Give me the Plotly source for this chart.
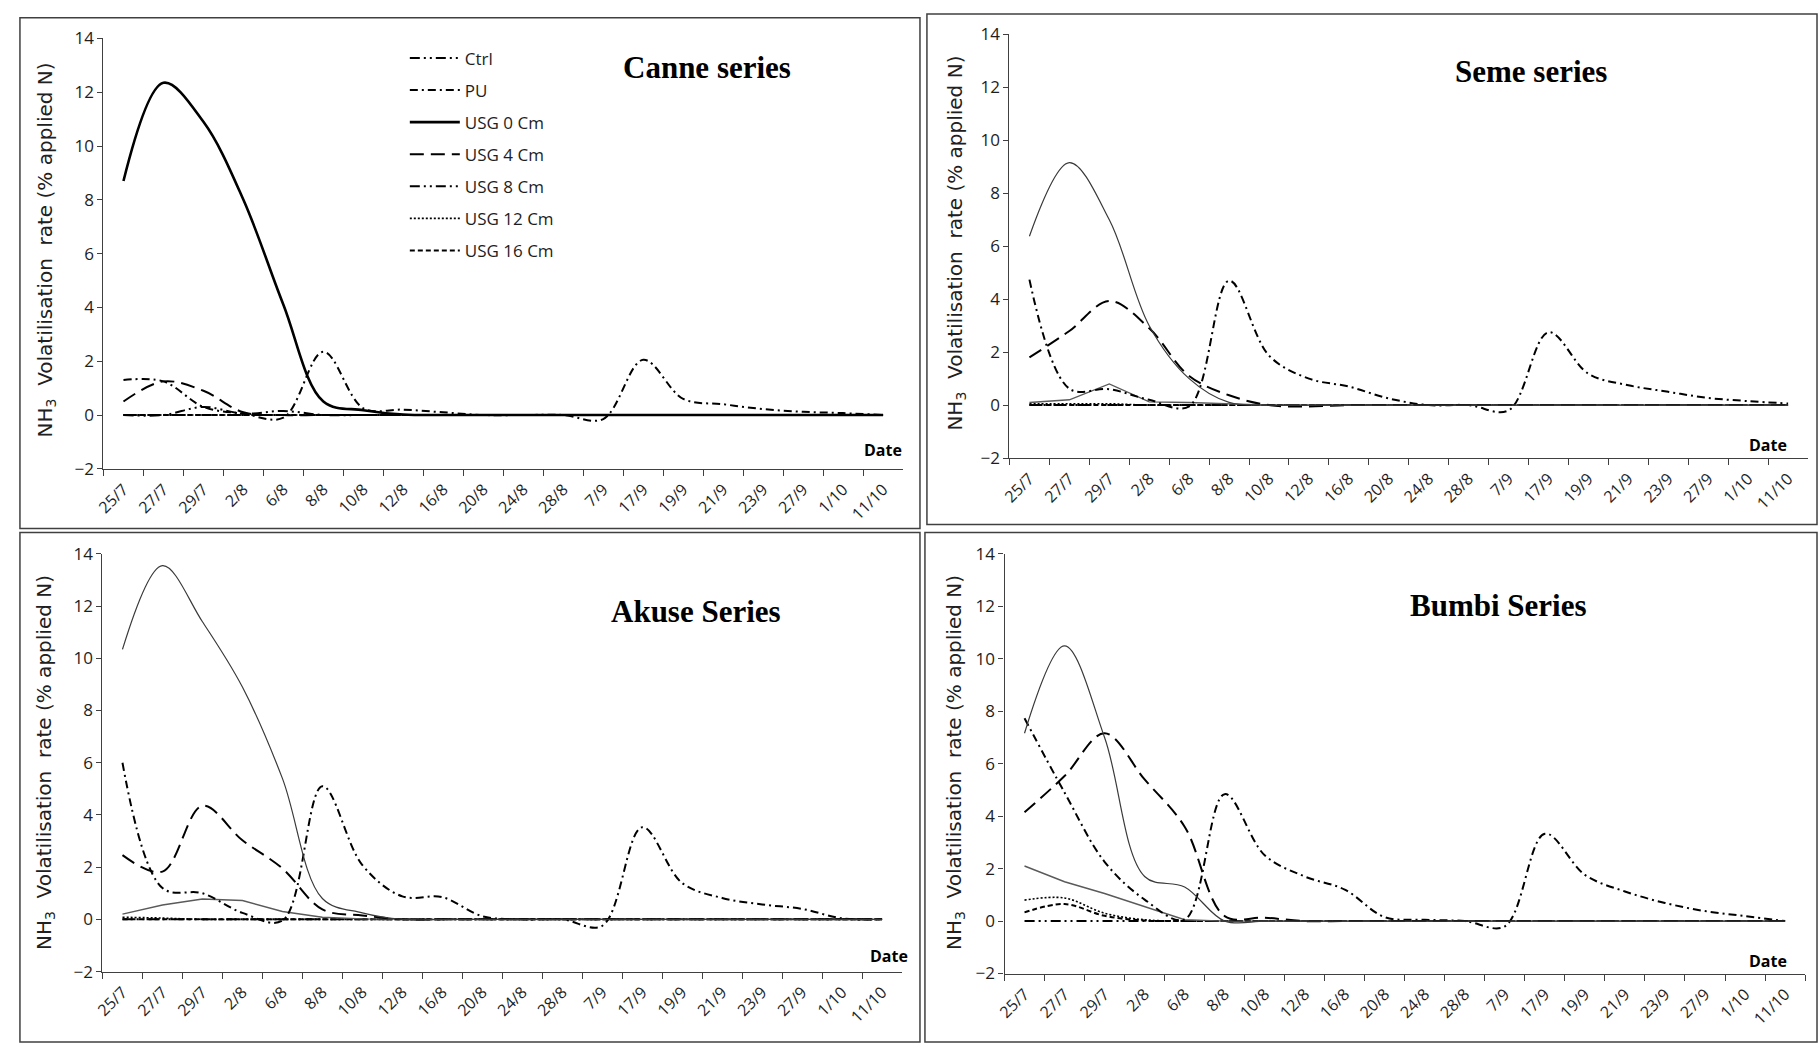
import plotly.graph_objects as go

W, H = 1819, 1053

dates = ["25/7", "27/7", "29/7", "2/8", "6/8", "8/8", "10/8", "12/8", "16/8", "20/8",
         "24/8", "28/8", "7/9", "17/9", "19/9", "21/9", "23/9", "27/9", "1/10", "11/10"]

series_names = ["Ctrl", "PU", "USG 0 Cm", "USG 4 Cm", "USG 8 Cm", "USG 12 Cm", "USG 16 Cm"]

# ---- Canne series ----
canne_ctrl = [0.0] * 20
canne_pu = [1.3, 1.25, 0.3, 0.05, -0.1, 2.35, 0.25, 0.2, 0.1, 0.0, 0.0, 0.0, -0.15, 2.05, 0.6, 0.4, 0.22, 0.12, 0.07, 0.0]
canne_usg0 = [8.7, 12.35, 10.9, 8.0, 4.1, 0.5, 0.18, 0.02, 0.0, 0.0, 0.0, 0.0, 0.0, 0.0, 0.0, 0.0, 0.0, 0.0, 0.0, 0.0]
canne_usg4 = [0.5, 1.25, 0.9, 0.1, 0.0, 0.0, 0.0, 0.0, 0.0, 0.0, 0.0, 0.0, 0.0, 0.0, 0.0, 0.0, 0.0, 0.0, 0.0, 0.0]
canne_usg8 = [0.0, 0.0, 0.3, 0.05, 0.15, 0.0, 0.0, 0.0, 0.0, 0.0, 0.0, 0.0, 0.0, 0.0, 0.0, 0.0, 0.0, 0.0, 0.0, 0.0]
canne_usg12 = [0.0] * 20
canne_usg16 = [0.0] * 20

# ---- Seme series ----
seme_ctrl = [0.0] * 20
seme_pu = [4.74, 0.62, 0.6, 0.2, -0.05, 4.7, 1.87, 1.0, 0.7, 0.25, 0.0, 0.0, -0.2, 2.75, 1.18, 0.75, 0.5, 0.27, 0.15, 0.06]
seme_usg0 = [6.38, 9.16, 7.0, 3.0, 1.0, 0.1, 0.0, 0.0, 0.0, 0.0, 0.0, 0.0, 0.0, 0.0, 0.0, 0.0, 0.0, 0.0, 0.0, 0.0]
seme_usg4 = [1.8, 2.8, 3.93, 2.9, 1.1, 0.37, 0.0, -0.05, 0.0, 0.0, 0.0, 0.0, 0.0, 0.0, 0.0, 0.0, 0.0, 0.0, 0.0, 0.0]
seme_usg8 = [0.1, 0.2, 0.8, 0.12, 0.1, 0.05, 0.0, 0.0, 0.0, 0.0, 0.0, 0.0, 0.0, 0.0, 0.0, 0.0, 0.0, 0.0, 0.0, 0.0]
seme_usg12 = [0.05, 0.05, 0.05, 0.0, 0.0, 0.0, 0.0, 0.0, 0.0, 0.0, 0.0, 0.0, 0.0, 0.0, 0.0, 0.0, 0.0, 0.0, 0.0, 0.0]
seme_usg16 = [0.0] * 20

# ---- Akuse series ----
akuse_ctrl = [0.0] * 20
akuse_pu = [6.0, 1.2, 1.0, 0.25, -0.05, 5.1, 2.08, 0.88, 0.85, 0.12, 0.0, 0.0, -0.25, 3.53, 1.39, 0.82, 0.57, 0.4, 0.04, 0.0]
akuse_usg0 = [10.34, 13.55, 11.4, 8.9, 5.4, 0.8, 0.25, 0.0, 0.0, 0.0, 0.0, 0.0, 0.0, 0.0, 0.0, 0.0, 0.0, 0.0, 0.0, 0.0]
akuse_usg4 = [2.46, 1.83, 4.35, 3.03, 1.95, 0.38, 0.15, 0.0, 0.0, 0.0, 0.0, 0.0, 0.0, 0.0, 0.0, 0.0, 0.0, 0.0, 0.0, 0.0]
akuse_usg8 = [0.2, 0.55, 0.78, 0.72, 0.3, 0.08, 0.02, 0.0, 0.0, 0.0, 0.0, 0.0, 0.0, 0.0, 0.0, 0.0, 0.0, 0.0, 0.0, 0.0]
akuse_usg12 = [0.08, 0.05, 0.0, 0.0, 0.0, 0.0, 0.0, 0.0, 0.0, 0.0, 0.0, 0.0, 0.0, 0.0, 0.0, 0.0, 0.0, 0.0, 0.0, 0.0]
akuse_usg16 = [0.0] * 20

# ---- Bumbi series ----
bumbi_ctrl = [0.0] * 20
bumbi_pu = [7.73, 4.9, 2.26, 0.82, 0.06, 4.84, 2.51, 1.7, 1.2, 0.15, 0.05, 0.0, -0.2, 3.33, 1.76, 1.13, 0.69, 0.38, 0.19, 0.0]
bumbi_usg0 = [7.16, 10.49, 7.0, 1.7, 1.3, 0.0, 0.0, 0.0, 0.0, 0.0, 0.0, 0.0, 0.0, 0.0, 0.0, 0.0, 0.0, 0.0, 0.0, 0.0]
bumbi_usg4 = [4.15, 5.53, 7.16, 5.4, 3.6, 0.19, 0.13, 0.0, 0.0, 0.0, 0.0, 0.0, 0.0, 0.0, 0.0, 0.0, 0.0, 0.0, 0.0, 0.0]
bumbi_usg8 = [2.1, 1.5, 1.05, 0.55, 0.05, 0.0, 0.0, 0.0, 0.0, 0.0, 0.0, 0.0, 0.0, 0.0, 0.0, 0.0, 0.0, 0.0, 0.0, 0.0]
bumbi_usg12 = [0.8, 0.88, 0.3, 0.05, 0.0, 0.0, 0.0, 0.0, 0.0, 0.0, 0.0, 0.0, 0.0, 0.0, 0.0, 0.0, 0.0, 0.0, 0.0, 0.0]
bumbi_usg16 = [0.33, 0.65, 0.2, 0.02, 0.0, 0.0, 0.0, 0.0, 0.0, 0.0, 0.0, 0.0, 0.0, 0.0, 0.0, 0.0, 0.0, 0.0, 0.0, 0.0]

panel_titles = ["Canne series", "Seme series", "Akuse Series", "Bumbi Series"]
panels = [
    [canne_ctrl, canne_pu, canne_usg0, canne_usg4, canne_usg8, canne_usg12, canne_usg16],
    [seme_ctrl, seme_pu, seme_usg0, seme_usg4, seme_usg8, seme_usg12, seme_usg16],
    [akuse_ctrl, akuse_pu, akuse_usg0, akuse_usg4, akuse_usg8, akuse_usg12, akuse_usg16],
    [bumbi_ctrl, bumbi_pu, bumbi_usg0, bumbi_usg4, bumbi_usg8, bumbi_usg12, bumbi_usg16],
]

# ---------------- styles / layout ----------------
LDD = "10px,4px,2px,4px,2px,4px"
legend_styles = [
    dict(color="black", width=2.0, dash=LDD),
    dict(color="black", width=2.0, dash="8px,4px,2px,4px"),
    dict(color="black", width=2.6, dash="solid"),
    dict(color="black", width=2.0, dash="14px,7px"),
    dict(color="black", width=2.0, dash=LDD),
    dict(color="black", width=1.6, dash="2px,2px"),
    dict(color="black", width=2.0, dash="5px,3px"),
]
other_styles = [
    dict(color="black", width=2.0, dash=LDD),
    dict(color="black", width=2.0, dash="8px,4px,2px,4px"),
    dict(color="#3a3a3a", width=1.2, dash="solid"),
    dict(color="black", width=2.0, dash="14px,7px"),
    dict(color="#5a5a5a", width=1.4, dash="solid"),
    dict(color="black", width=1.6, dash="2px,2px"),
    dict(color="black", width=2.0, dash="5px,3px"),
]
other_shapes = ["spline", "spline", "spline", "spline", "linear", "spline", "spline"]

TICKFONT = "Open Sans, Lato, sans-serif"
TEXTCOL = "#1e1e1e"

def px_x(p):
    return p / W

def px_y(p):
    return 1 - p / H

# plot areas in pixels: (x0, x1, y_top(14), y_bottom(-2))
areas = [
    (94, 898, 27, 467),
    (1005, 1808, 23, 456),
    (93, 897, 554, 981),
    (1000, 1805, 554, 983),
]
frames = [
    (10, 6, 915, 528),
    (922, 2, 1817, 524),
    (10, 532, 915, 1053),
    (920, 532, 1817, 1053),
]
title_pos = [(701, 57), (1529, 61), (690, 613), (1497, 607)]
date_pos = [(878, 448), (1768, 443), (884, 965), (1768, 970)]
ytitle_pos = [(36, 243), (951, 236), (35, 767), (950, 767)]

fig = go.Figure()

draw_order = [0, 6, 5, 4, 3, 1, 2]
for pi, data in enumerate(panels):
    sfx = "" if pi == 0 else str(pi + 1)
    for si in draw_order:
        st = legend_styles[si] if pi == 0 else other_styles[si]
        shp = "spline" if pi == 0 else other_shapes[si]
        fig.add_trace(go.Scatter(
            x=dates, y=data[si], mode="lines", name=series_names[si],
            line=dict(color=st["color"], width=st["width"], dash=st["dash"], shape=shp, smoothing=1.0),
            xaxis="x" + sfx, yaxis="y" + sfx,
            showlegend=(pi == 0), legendgroup=series_names[si], legendrank=si,
            hoverinfo="skip",
        ))

layout = dict(
    width=W, height=H,
    margin=dict(l=0, r=0, t=0, b=0),
    paper_bgcolor="white", plot_bgcolor="white",
    font=dict(family=TICKFONT, color=TEXTCOL),
    showlegend=True,
    legend=dict(x=px_x(397), y=px_y(29), xanchor="left", yanchor="top",
                font=dict(family=TICKFONT, size=17, color=TEXTCOL),
                tracegroupgap=7, bgcolor="rgba(0,0,0,0)", itemwidth=50,
                traceorder="grouped"),
)

shapes = []
annotations = []
for pi in range(4):
    sfx = "" if pi == 0 else str(pi + 1)
    x0, x1, yt, yb = areas[pi]
    layout["xaxis" + sfx] = dict(
        domain=[px_x(x0), px_x(x1)], anchor="y" + sfx, type="category",
        categoryorder="array", categoryarray=dates,
        range=[-0.5, 19.5], tickson="boundaries", ticks="outside", ticklen=6,
        tickcolor="#404040", showline=True, linecolor="#404040", linewidth=1.2,
        showgrid=False, zeroline=False, tickangle=-45, ticklabelstandoff=4,
        tickfont=dict(family=TICKFONT, size=16, color=TEXTCOL),
    )
    layout["yaxis" + sfx] = dict(
        domain=[px_y(yb), px_y(yt)], anchor="x" + sfx,
        range=[-2, 14], dtick=2, tick0=0, ticks="outside", ticklen=5,
        tickcolor="#404040", showline=True, linecolor="#404040", linewidth=1.2,
        showgrid=False, zeroline=False,
        tickfont=dict(family=TICKFONT, size=17, color=TEXTCOL),
    )
    fx0, fy0, fx1, fy1 = frames[pi]
    shapes.append(dict(type="rect", xref="paper", yref="paper",
                       x0=px_x(fx0), x1=px_x(fx1), y0=px_y(fy1), y1=px_y(fy0),
                       line=dict(color="#404040", width=1.5), fillcolor="rgba(0,0,0,0)"))
    tx, ty = title_pos[pi]
    annotations.append(dict(text="<b>" + panel_titles[pi] + "</b>", x=px_x(tx), y=px_y(ty),
                            xref="paper", yref="paper", showarrow=False,
                            xanchor="center", yanchor="middle",
                            font=dict(family="Liberation Serif, Times New Roman, serif", size=31, color="black")))
    dx, dy = date_pos[pi]
    annotations.append(dict(text="<b>Date</b>", x=px_x(dx), y=px_y(dy),
                            xref="paper", yref="paper", showarrow=False,
                            xanchor="center", yanchor="middle",
                            font=dict(family=TICKFONT, size=16, color="black")))
    yx, yy = ytitle_pos[pi]
    annotations.append(dict(text="NH<sub>3</sub>  Volatilisation  rate (% applied N)",
                            x=px_x(yx), y=px_y(yy), xref="paper", yref="paper",
                            showarrow=False, textangle=-90, xanchor="center", yanchor="middle",
                            font=dict(family="DejaVu Sans, Verdana, sans-serif", size=20, color="#202020")))

layout["shapes"] = shapes
layout["annotations"] = annotations
fig.update_layout(**layout)

fig.write_html("out.html")
